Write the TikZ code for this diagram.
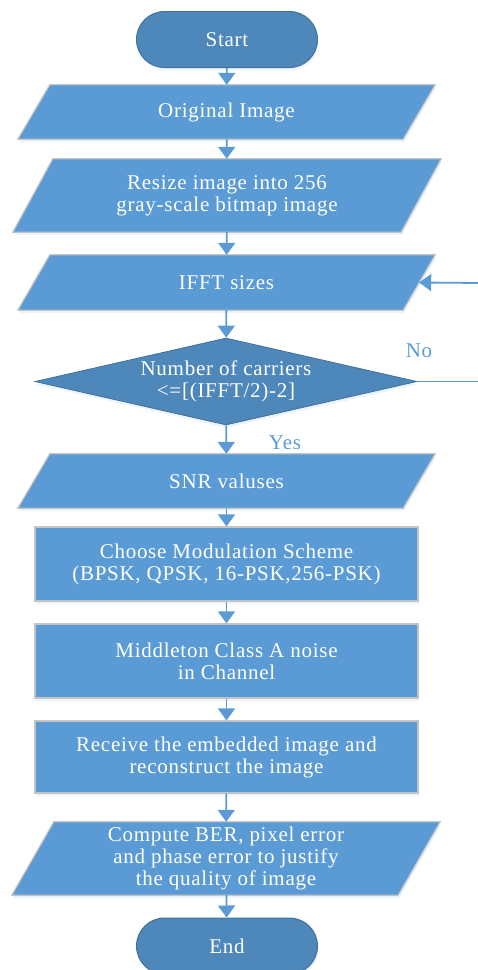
\documentclass[tikz,border=0pt]{standalone}
\usepackage{fontspec}
\setmainfont{Liberation Serif}[LetterSpace=3.5]
\usetikzlibrary{arrows.meta,backgrounds,shadows,shapes.geometric}
\definecolor{boxblue}{HTML}{5B9BD5}
\definecolor{darkblue}{HTML}{4E87BA}
\definecolor{darkedge}{HTML}{41719C}
\definecolor{lightedge}{HTML}{C4C4C4}
\definecolor{linkblue}{HTML}{5B9BD5}
\newcommand\parabg[2]{\filldraw[parashape] ([xshift=#2]#1.north west) -- ([xshift=#2]#1.north east) -- ([xshift=-#2]#1.south east) -- ([xshift=-#2]#1.south west) -- cycle;}
\begin{document}
\begin{tikzpicture}[x=1pt,y=-1pt,
  txt/.style={text=white, font=\fontsize{21}{22}\selectfont, align=center, inner sep=0pt},
  softshadow/.style={drop shadow={shadow xshift=1pt, shadow yshift=-3pt, opacity=0.25, fill=boxblue!45}},
  term/.style={txt, rectangle, rounded corners=28pt, fill=darkblue, draw=darkedge, line width=1pt, minimum width=181pt, minimum height=56pt, softshadow},
  procbox/.style={txt, rectangle, fill=boxblue, draw=lightedge, line width=1.2pt, minimum width=383pt, softshadow},
  parabox/.style={txt, rectangle, minimum width=385pt},
  parashape/.style={fill=boxblue, draw=lightedge, line width=1.2pt, softshadow},
  decision/.style={txt, diamond, fill=darkblue, draw=darkedge, line width=0.8pt, minimum width=382pt, minimum height=87pt, aspect=4.39, softshadow},
  link/.style={draw=linkblue, line width=1.8pt, -{Triangle[width=17pt,length=12pt]}},
  plainlink/.style={draw=linkblue, line width=1.8pt},
  lab/.style={text=linkblue, font=\fontsize{21}{22}\selectfont, inner sep=0pt}]
\clip (0,0) rectangle (478,970);
\node[term] (start) at (227,39.5) {Start};
\node[parabox, minimum height=54pt] (orig) at (226.5,112) {Original Image};
\node[parabox, minimum height=73pt, minimum width=388pt] (resize) at (227,195.5) {Resize image into 256\\gray-scale bitmap image};
\node[parabox, minimum height=55pt] (ifft) at (226.5,282.5) {IFFT sizes};
\node[decision] (dec) at (226,381.5) {Number of carriers\\<=[(IFFT/2)-2]};
\node[parabox, minimum height=54pt] (snr) at (226.5,481) {SNR valuses};
\node[procbox, minimum height=74pt] (mod) at (226.5,564) {Choose Modulation Scheme\\(BPSK, QPSK, 16-PSK,256-PSK)};
\node[procbox, minimum height=74pt] (noise) at (226.5,661) {Middleton Class A noise\\in Channel};
\node[procbox, minimum height=72pt] (recv) at (226.5,757) {Receive the embedded image and\\reconstruct the image};
\node[parabox, minimum height=73pt, minimum width=386pt] (comp) at (226,858.5) {Compute BER, pixel error\\and phase error to justify\\the quality of image};
\node[term] (end) at (227,946) {End};
\begin{scope}[on background layer]
\parabg{orig}{16}
\parabg{resize}{20}
\parabg{ifft}{16}
\parabg{snr}{16}
\parabg{comp}{21}
\end{scope}
\node[lab] (no) at (419,351) {No};
\node[lab] (yes) at (285,443) {Yes};
\coordinate (noend) at (482,381.5);
\coordinate (backstart) at (482,283);
\draw[link] (start) -- (orig);
\draw[link] (orig) -- (resize);
\draw[link] (resize) -- (ifft);
\draw[link] (ifft) -- (dec);
\draw[link] (dec) -- (snr);
\draw[link] (snr) -- (mod);
\draw[link] (mod) -- (noise);
\draw[link] (noise) -- (recv);
\draw[link] (recv) -- (comp);
\draw[link] (comp) -- (end);
\draw[plainlink] (dec.east) -- (noend);
\draw[link] (backstart) -- (ifft.east);
\end{tikzpicture}
\end{document}
